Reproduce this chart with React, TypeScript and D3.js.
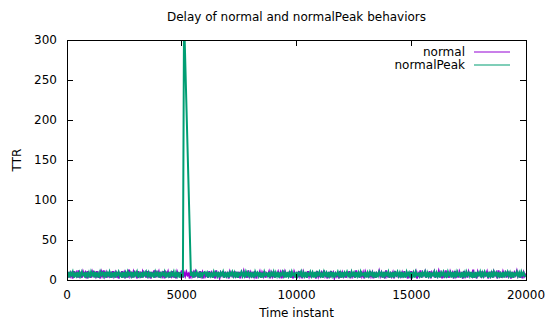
import React, { useRef, useEffect } from 'react';
import * as d3 from 'd3';

// sample times (time instant axis), one sample every 50 instants
const times: number[] = d3.range(0, 20001, 50);

// TTR of the normal behavior
const normal: number[] = [
  9, 3, 10, 5, 8, 2, 11, 6, 9, 3, 12, 5, 8, 3, 10, 6, 9, 2, 11, 5,
  8, 3, 10, 6, 9, 5, 11, 3, 8, 2, 10, 6, 12, 5, 9, 3, 10, 5, 8, 3,
  11, 5, 9, 3, 10, 2, 8, 6, 11, 3, 9, 5, 10, 3, 13, 5, 8, 3, 10, 6,
  9, 2, 11, 5, 8, 3, 10, 6, 9, 3, 11, 5, 8, 2, 10, 5, 12, 3, 9, 6,
  10, 3, 8, 5, 11, 2, 9, 6, 10, 3, 8, 5, 11, 3, 9, 2, 10, 6, 8, 5,
  12, 3, 9, 5, 10, 6, 8, 2, 11, 5, 9, 3, 10, 6, 8, 3, 11, 5, 9, 2,
  10, 5, 8, 3, 11, 6, 9, 3, 10, 2, 12, 5, 8, 3, 9, 6, 11, 3, 10, 5,
  8, 2, 10, 6, 9, 3, 11, 5, 8, 3, 10, 2, 9, 6, 11, 5, 8, 3, 12, 5,
  9, 3, 10, 5, 11, 2, 8, 6, 10, 3, 9, 5, 11, 3, 8, 6, 10, 2, 9, 5,
  11, 3, 8, 6, 10, 5, 9, 2, 12, 3, 10, 6, 8, 5, 11, 3, 9, 2, 10, 6,
  8, 3, 11, 5, 9, 2, 10, 6, 8, 3, 11, 5, 10, 3, 9, 6, 8, 2, 11, 5,
  10, 3, 9, 6, 12, 5, 8, 2, 10, 3, 11, 6, 9, 3, 8, 5, 10, 2, 11, 3,
  9, 5, 10, 3, 8, 6, 11, 2, 9, 5, 10, 3, 12, 6, 8, 3, 11, 5, 9, 2,
  10, 6, 8, 3, 11, 5, 9, 2, 10, 3, 8, 6, 11, 5, 9, 3, 10, 2, 12, 5,
  8, 3, 10, 5, 9, 2, 11, 6, 8, 3, 10, 5, 9, 3, 11, 6, 8, 2, 10, 5,
  11, 3, 9, 6, 10, 2, 8, 5, 12, 3, 9, 6, 10, 3, 8, 5, 11, 2, 9, 6,
  10, 3, 8, 5, 11, 6, 9, 2, 10, 3, 12, 5, 8, 3, 10, 6, 9, 2, 11, 5,
  9, 3, 10, 6, 8, 2, 11, 5, 9, 3, 10, 6, 8, 5, 13, 3, 9, 2, 10, 6,
  8, 5, 11, 3, 9, 6, 10, 2, 8, 5, 11, 3, 10, 6, 9, 2, 12, 5, 8, 3,
  10, 6, 9, 3, 11, 5, 8, 2, 10, 3, 9, 6, 11, 5, 8, 3, 10, 2, 9, 5,
  8,
];

// TTR of the normalPeak behavior; null = no sample (the peak just joins up)
const normalPeak: (number | null)[] = [
  5, 10, 3, 9, 6, 10, 3, 8, 5, 10, 3, 9, 5, 10, 6, 8, 3, 10, 5, 9,
  3, 10, 6, 9, 3, 10, 5, 8, 3, 10, 6, 9, 5, 10, 3, 9, 6, 10, 3, 8,
  5, 10, 3, 9, 6, 10, 5, 8, 3, 10, 5, 9, 3, 10, 6, 9, 5, 10, 3, 9,
  6, 10, 3, 8, 5, 10, 3, 9, 6, 10, 5, 9, 3, 10, 5, 8, 3, 10, 6, 9,
  3, 10, 5, 9, 6, 10, 3, 8, 5, 10, 3, 9, 6, 10, 3, 9, 5, 10, 3, 8,
  6, 5, 330, null, null, null, null, null, 5, 10, 3, 9, 6, 10, 5, 8, 3, 10, 5, 9,
  10, 6, 9, 3, 10, 5, 8, 3, 10, 6, 9, 5, 10, 3, 9, 6, 10, 3, 8, 5,
  10, 3, 9, 6, 10, 5, 9, 3, 10, 3, 8, 6, 10, 5, 9, 3, 10, 6, 9, 3,
  10, 5, 8, 3, 10, 6, 9, 5, 10, 3, 9, 3, 10, 6, 8, 5, 10, 3, 9, 6,
  10, 3, 9, 5, 10, 3, 8, 6, 10, 5, 9, 3, 10, 5, 9, 3, 10, 6, 8, 3,
  10, 5, 9, 6, 10, 3, 9, 5, 10, 3, 8, 6, 10, 5, 9, 3, 10, 3, 9, 6,
  10, 5, 8, 3, 10, 6, 9, 3, 10, 5, 9, 5, 10, 3, 8, 6, 10, 5, 9, 3,
  10, 3, 9, 6, 10, 5, 8, 3, 10, 6, 9, 3, 10, 5, 9, 3, 10, 6, 8, 5,
  10, 3, 9, 5, 10, 6, 9, 3, 10, 3, 8, 5, 10, 6, 9, 3, 10, 5, 9, 6,
  10, 3, 8, 5, 10, 3, 9, 6, 10, 5, 9, 3, 10, 5, 8, 3, 10, 6, 9, 3,
  10, 5, 9, 3, 10, 6, 8, 5, 10, 3, 9, 6, 10, 3, 9, 5, 10, 3, 8, 6,
  10, 3, 9, 5, 10, 3, 9, 6, 10, 5, 8, 3, 10, 6, 9, 3, 10, 5, 9, 3,
  10, 6, 8, 3, 10, 5, 9, 3, 10, 6, 9, 5, 10, 3, 8, 3, 10, 5, 9, 6,
  10, 3, 9, 5, 10, 6, 8, 3, 10, 5, 9, 3, 10, 6, 9, 5, 10, 3, 8, 5,
  10, 3, 9, 6, 10, 5, 9, 3, 10, 3, 8, 6, 10, 5, 9, 3, 10, 6, 9, 5,
  6,
];

const seriesNames = ['normal', 'normalPeak'];
const seriesColors = ['#9400d3', '#009e73'];
const xTicks = [0, 5000, 10000, 15000, 20000];
const yTicks = [0, 50, 100, 150, 200, 250, 300];

const App = () => {
  const svgRef = useRef<SVGSVGElement>(null);

  useEffect(() => {
    const svg = d3.select(svgRef.current);
    svg.selectAll('*').remove();

    const width = 547;
    const height = 320;
    const margin = { top: 40, right: 21, bottom: 40, left: 67 };
    const font = 'DejaVu Sans, sans-serif';
    const tick = 6;

    const x = d3.scaleLinear().domain([0, 20000]).range([margin.left, width - margin.right]);
    const y = d3.scaleLinear().domain([0, 300]).range([height - margin.bottom, margin.top]);
    const [x0, x1] = x.range();
    const [y0, y1] = y.range();

    svg.append('rect').attr('width', width).attr('height', height).attr('fill', '#fff');

    svg.append('defs').append('clipPath').attr('id', 'plot-clip')
      .append('rect').attr('x', x0).attr('y', y1).attr('width', x1 - x0).attr('height', y0 - y1);

    // data lines
    const line = d3.line<[number, number]>().x(d => x(d[0])).y(d => y(d[1]));
    const allSeries = [normal, normalPeak];
    const plot = svg.append('g').attr('clip-path', 'url(#plot-clip)');
    allSeries.forEach((vals, i) => {
      const pts = times
        .map((t, j) => [t, vals[j]] as [number, number | null])
        .filter(d => d[1] != null) as [number, number][];
      plot.append('path')
        .attr('d', line(pts))
        .attr('fill', 'none')
        .attr('stroke', seriesColors[i])
        .attr('stroke-width', 2);
    });

    // frame + ticks (gnuplot style, inward, mirrored)
    const axes = svg.append('g').attr('stroke', '#000').attr('stroke-width', 1).attr('shape-rendering', 'crispEdges');
    xTicks.forEach(t => {
      axes.append('line').attr('x1', x(t)).attr('x2', x(t)).attr('y1', y0).attr('y2', y0 - tick);
      axes.append('line').attr('x1', x(t)).attr('x2', x(t)).attr('y1', y1).attr('y2', y1 + tick);
    });
    yTicks.forEach(t => {
      axes.append('line').attr('x1', x0).attr('x2', x0 + tick).attr('y1', y(t)).attr('y2', y(t));
      axes.append('line').attr('x1', x1).attr('x2', x1 - tick).attr('y1', y(t)).attr('y2', y(t));
    });
    axes.append('rect')
      .attr('x', x0).attr('y', y1).attr('width', x1 - x0).attr('height', y0 - y1)
      .attr('fill', 'none');

    const text = svg.append('g').attr('font-family', font).attr('font-size', 12).attr('fill', '#000');
    xTicks.forEach(t => {
      text.append('text').attr('x', x(t)).attr('y', 299).attr('text-anchor', 'middle').text(t);
    });
    yTicks.forEach(t => {
      text.append('text').attr('x', 57).attr('y', y(t) + 4).attr('text-anchor', 'end').text(t);
    });

    text.append('text').attr('x', (x0 + x1) / 2).attr('y', 21).attr('text-anchor', 'middle')
      .text('Delay of normal and normalPeak behaviors');
    text.append('text').attr('x', (x0 + x1) / 2).attr('y', 317).attr('text-anchor', 'middle')
      .text('Time instant');
    text.append('text')
      .attr('transform', `translate(21, ${(y0 + y1) / 2}) rotate(-90)`)
      .attr('text-anchor', 'middle')
      .text('TTR');

    // legend
    seriesNames.forEach((name, i) => {
      const ly = 52 + i * 13;
      text.append('text').attr('x', 465).attr('y', ly + 4).attr('text-anchor', 'end').text(name);
      svg.append('line')
        .attr('x1', 474).attr('x2', 510).attr('y1', ly).attr('y2', ly)
        .attr('stroke', seriesColors[i]).attr('stroke-width', 1.2);
    });
  }, []);

  return (
    <svg
      ref={svgRef}
      width={547}
      height={320}
      style={{ position: 'absolute', left: 0, top: 0, display: 'block' }}
    />
  );
};

export default App;
